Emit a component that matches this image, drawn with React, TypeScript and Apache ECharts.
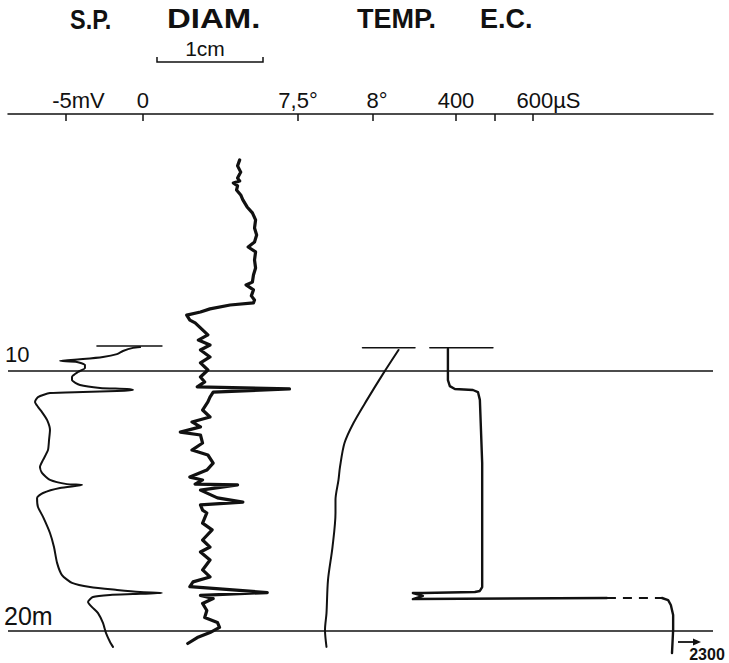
import { useEffect, useRef } from "react";
import * as echarts from "echarts";

const FONT = '"Liberation Sans", Arial, Helvetica, sans-serif';
const INK = "#111111";

// ---- axis scales (value ranges spanned by the plot width) ----
const depthMin = 0.135;
const depthMax = 21.25;
const spRange = [-8.766, 37.013]; // mV
const diamRange = [-1.4057, 5.2453]; // cm (relative to scale bar origin)
const tempRange = [5.5667, 10.2667]; // °C
const ecRange = [-763.64, 1067.53]; // µS

const spTicks = [-5, 0];
const tempTicks = [7.5, 8];
const ecTicks = [400, 500, 600];
const ecLabelValues = [400, 600];
const depthLines = [10, 20];

// ---- S.P. (mV) ----
const spBarMv = [-2.99, 1.23];
const spBarDepth = [9.06, 9.06];
const spMv = [-0.19, -0.65, -1.3, -1.69, -2.6, -3.9, -5.39, -4.29, -3.77, -3.77, -4.22, -4.61, -4.61, -4.09, -2.79, -1.04, -0.65, -1.69, -3.9, -6.04, -6.82, -7.01, -6.82, -6.56, -6.23, -6.04, -6.1, -6.17, -6.49, -6.69, -6.56, -6.04, -4.94, -3.96, -5.39, -6.49, -6.88, -6.82, -6.49, -6.04, -5.78, -5.58, -5.26, -4.61, -3.44, -1.69, -0.19, 1.23, -0.65, -2.14, -3.25, -3.57, -3.31, -2.92, -2.6, -2.4, -2.14, -1.95];
const spDepth = [9.1, 9.13, 9.25, 9.37, 9.48, 9.56, 9.63, 9.67, 9.79, 9.9, 10.06, 10.25, 10.37, 10.56, 10.67, 10.71, 10.75, 10.79, 10.83, 10.87, 11.02, 11.21, 11.4, 11.6, 11.9, 12.29, 12.67, 13.06, 13.44, 13.71, 13.94, 14.21, 14.37, 14.4, 14.52, 14.71, 14.9, 15.25, 15.63, 16.25, 16.79, 17.4, 17.87, 18.17, 18.33, 18.44, 18.52, 18.56, 18.6, 18.63, 18.71, 18.9, 19.1, 19.33, 19.71, 20.1, 20.44, 20.63];

// ---- DIAM. (cm) ----
const diamCm = [0.78, 0.76, 0.79, 0.76, 0.78, 0.72, 0.76, 0.75, 0.79, 0.81, 0.85, 0.9, 0.93, 0.92, 0.94, 0.92, 0.86, 0.93, 0.92, 0.93, 0.91, 0.9, 0.84, 0.91, 0.89, 0.92, 0.91, 0.69, 0.5, 0.41, 0.28, 0.31, 0.36, 0.43, 0.48, 0.39, 0.5, 0.41, 0.5, 0.41, 0.48, 0.41, 0.45, 0.38, 1.25, 0.53, 0.5, 0.48, 0.43, 0.5, 0.33, 0.41, 0.22, 0.41, 0.43, 0.33, 0.48, 0.53, 0.47, 0.31, 0.43, 0.36, 0.76, 0.41, 0.57, 0.81, 0.41, 0.43, 0.47, 0.43, 0.52, 0.43, 0.5, 0.41, 0.5, 0.43, 0.5, 0.34, 0.31, 1.04, 0.41, 0.53, 0.43, 0.47, 0.45, 0.57, 0.59, 0.5, 0.38, 0.29];
const diamDepth = [1.9, 2.13, 2.37, 2.6, 2.71, 2.79, 2.9, 3.06, 3.25, 3.44, 3.71, 3.94, 4.21, 4.52, 4.79, 5.06, 5.25, 5.44, 5.75, 6.06, 6.33, 6.6, 6.71, 6.9, 7.13, 7.29, 7.4, 7.48, 7.63, 7.75, 7.87, 8.06, 8.17, 8.44, 8.63, 8.83, 9.02, 9.21, 9.48, 9.71, 9.98, 10.25, 10.44, 10.63, 10.71, 10.83, 11.02, 11.21, 11.52, 11.79, 11.98, 12.17, 12.37, 12.48, 12.79, 13.06, 13.25, 13.56, 13.83, 14.1, 14.21, 14.37, 14.4, 14.6, 14.9, 15.06, 15.17, 15.37, 15.48, 15.87, 16.13, 16.52, 16.79, 16.98, 17.29, 17.67, 17.94, 18.13, 18.31, 18.54, 18.65, 18.77, 18.96, 19.23, 19.5, 19.69, 19.88, 20.08, 20.27, 20.5];

// ---- TEMP. (°C) ----
const tempBarC = [7.93, 8.28];
const tempBarDepth = [9.13, 9.13];
const tempC = [8.17, 8.07, 7.96, 7.87, 7.81, 7.78, 7.77, 7.75, 7.75, 7.73, 7.7, 7.69, 7.68, 7.69];
const tempDepth = [9.21, 10.1, 11.13, 12.02, 12.79, 13.71, 14.21, 14.98, 15.48, 16.79, 18.06, 19.33, 19.98, 20.63];

// ---- E.C. (µS) ----
const ecBarUs = [332, 496];
const ecBarDepth = [9.13, 9.13];
const ecUs = [379, 379, 384, 397, 444, 457, 462, 468, 468, 462, 449, 314, 288, 314, 288, 792];
const ecDepth = [9.17, 10.37, 10.6, 10.71, 10.75, 10.83, 11.13, 13.56, 18.33, 18.48, 18.52, 18.56, 18.56, 18.67, 18.79, 18.75];
const ecGapUs = [792, 935];
const ecGapDepth = [18.75, 18.75];
const ecTailUs = [935, 951, 958, 964, 964, 961];
const ecTailDepth = [18.75, 18.83, 19.02, 19.4, 19.98, 20.87];
const ecOffScale = "2300";

const zip = (xs: number[], ys: number[]) => xs.map((x, i) => [x, ys[i]]);

export default function App() {
  const ref = useRef<HTMLDivElement>(null);

  useEffect(() => {
    document.body.style.margin = "0";
    const chart = echarts.init(ref.current!, null, { renderer: "svg" });

    const line = (name: string, xi: number, xs: number[], ys: number[], width: number, extra: any = {}) => ({
      type: "line",
      name,
      xAxisIndex: xi,
      yAxisIndex: 0,
      data: zip(xs, ys),
      symbol: "none",
      showSymbol: false,
      silent: true,
      animation: false,
      lineStyle: { color: INK, width, join: "round", cap: "round", ...(extra.lineStyle || {}) },
      ...Object.fromEntries(Object.entries(extra).filter(([k]) => k !== "lineStyle")),
    });

    const labelBase = {
      margin: 14,
      verticalAlign: "middle",
      fontSize: 22,
      fontFamily: FONT,
      color: INK,
    };
    const hidden = {
      splitLine: { show: false },
      axisLine: { show: false, onZero: false },
      axisTick: { show: false },
      axisLabel: { show: false },
    };
    const tickStyle = { show: true, inside: true, length: 7, lineStyle: { color: INK, width: 1.5 } };

    const option: any = {
      animation: false,
      backgroundColor: "#ffffff",
      grid: { left: 8, right: 16, top: 114, bottom: 0, containLabel: false, outerBoundsMode: "none" },
      yAxis: { type: "value", inverse: true, min: depthMin, max: depthMax, show: false },
      xAxis: [
        {
          type: "value", position: "top", min: spRange[0], max: spRange[1], ...hidden,
          axisLine: { show: true, onZero: false, lineStyle: { color: INK, width: 1.5 } },
          axisTick: { ...tickStyle, customValues: spTicks },
          axisLabel: {
            ...labelBase, show: true, customValues: spTicks,
            formatter: (v: number) => (v === -5 ? "{u|-5mV}" : "0"),
            rich: { u: { fontSize: 22, fontFamily: FONT, color: INK, padding: [0, 0, 0, 25] } },
          },
        },
        { type: "value", position: "top", min: diamRange[0], max: diamRange[1], ...hidden },
        {
          type: "value", position: "top", min: tempRange[0], max: tempRange[1], ...hidden,
          axisTick: { ...tickStyle, customValues: tempTicks },
          axisLabel: {
            ...labelBase, show: true, customValues: tempTicks,
            formatter: (v: number) => (v === 8 ? "{t|8°}" : "7,5°"),
            rich: { t: { fontSize: 22, fontFamily: FONT, color: INK, padding: [0, 0, 0, 8] } },
          },
        },
        {
          type: "value", position: "top", min: ecRange[0], max: ecRange[1], ...hidden,
          axisTick: { ...tickStyle, customValues: ecTicks },
          axisLabel: {
            ...labelBase, show: true, customValues: ecLabelValues,
            formatter: (v: number) => (v === 600 ? "{u|600µS}" : String(v)),
            rich: { u: { fontSize: 22, fontFamily: FONT, color: INK, padding: [0, 0, 0, 31] } },
          },
        },
      ],
      series: [
        line("S.P. mark", 0, spBarMv, spBarDepth, 1.5, {
          markLine: {
            silent: true,
            animation: false,
            symbol: ["none", "none"],
            label: { show: false },
            lineStyle: { color: INK, width: 1.5, type: "solid" },
            data: depthLines.map((v) => ({ yAxis: v })),
          },
        }),
        line("S.P.", 0, spMv, spDepth, 2, { smooth: 0.2 }),
        line("DIAM.", 1, diamCm, diamDepth, 3.2),
        line("TEMP. mark", 2, tempBarC, tempBarDepth, 1.5),
        line("TEMP.", 2, tempC, tempDepth, 2, { smooth: 0.3 }),
        line("E.C. mark", 3, ecBarUs, ecBarDepth, 1.5),
        line("E.C.", 3, ecUs, ecDepth, 2.4),
        line("E.C. gap", 3, ecGapUs, ecGapDepth, 2, { lineStyle: { type: [9, 7], cap: "butt" } }),
        line("E.C. tail", 3, ecTailUs, ecTailDepth, 2.4),
      ],
    };
    chart.setOption(option);

    const px = (xi: number, v: number) => chart.convertToPixel({ xAxisIndex: xi } as any, v) as unknown as number;
    const py = (v: number) => chart.convertToPixel({ yAxisIndex: 0 } as any, v) as unknown as number;

    const x0 = px(1, 0);
    const x1 = px(1, 1);
    const head = (text: string, x: number, sx: number) => ({
      type: "text", x, y: 19, scaleX: sx, silent: true,
      style: { text, fill: INK, fontSize: 27, fontWeight: "bold", fontFamily: FONT, textAlign: "left", textVerticalAlign: "middle" },
    });

    chart.setOption({
      graphic: [
        head("S.P.", 70, 0.87),
        head("DIAM.", 167, 1.22),
        head("TEMP.", 357, 1.0),
        head("E.C.", 480, 1.0),
        {
          type: "text", x: 205, y: 48, silent: true,
          style: { text: "1cm", fill: INK, fontSize: 21, fontFamily: FONT, textAlign: "center", textVerticalAlign: "middle" },
        },
        {
          type: "polyline", silent: true,
          shape: { points: [[x0, 57], [x0, 62], [x1, 62], [x1, 57]] },
          style: { stroke: INK, lineWidth: 1.5, fill: "none" },
        },
        {
          type: "text", x: 5, y: py(10) - 15.5, silent: true,
          style: { text: "10", fill: INK, fontSize: 22, fontFamily: FONT, textAlign: "left", textVerticalAlign: "middle" },
        },
        {
          type: "text", x: 4, y: py(20) - 14.5, silent: true,
          style: { text: "20m", fill: INK, fontSize: 25, fontFamily: FONT, textAlign: "left", textVerticalAlign: "middle" },
        },
        {
          type: "line", silent: true,
          shape: { x1: 678, y1: 642, x2: 696, y2: 642 },
          style: { stroke: INK, lineWidth: 1.8 },
        },
        {
          type: "polygon", silent: true,
          shape: { points: [[693, 638.5], [701, 642], [693, 645.5]] },
          style: { fill: INK },
        },
        {
          type: "text", x: 707, y: 654.5, silent: true,
          style: { text: ecOffScale, fill: INK, fontSize: 16, fontWeight: "bold", fontFamily: FONT, textAlign: "center", textVerticalAlign: "middle" },
        },
      ],
    });

    return () => chart.dispose();
  }, []);

  return <div ref={ref} style={{ width: 729, height: 663 }} />;
}
